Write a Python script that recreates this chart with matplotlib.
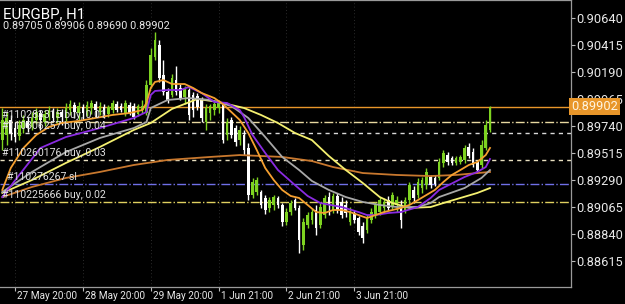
import numpy as np
import matplotlib
matplotlib.use('Agg')
import matplotlib.pyplot as plt
import matplotlib.transforms as mtransforms

plt.rcParams['font.family'] = ['Roboto', 'DejaVu Sans']

# EURGBP H1 candles (oldest -> newest)
opens = [0.89623, 0.89665, 0.89790, 0.89723, 0.89657, 0.89723, 0.89782, 0.89732, 0.89790, 0.89848,
         0.89773, 0.89823, 0.89865, 0.89807, 0.89857, 0.89807, 0.89873, 0.89915, 0.89848, 0.89898,
         0.89857, 0.89890, 0.89923, 0.89857, 0.89898, 0.89840, 0.89873, 0.89923, 0.89907, 0.89848,
         0.89915, 0.89907, 0.89840, 0.89873, 0.89848, 0.90082, 0.90315, 0.90415, 0.90165, 0.90023,
         0.89998, 0.90123, 0.90057, 0.89982, 0.90040, 0.89998, 0.89990, 0.89957, 0.89773, 0.89848,
         0.89873, 0.89890, 0.89915, 0.89665, 0.89790, 0.89723, 0.89623, 0.89665, 0.89557, 0.89165,
         0.89190, 0.89190, 0.89140, 0.89057, 0.89082, 0.89140, 0.89082, 0.88940, 0.89023, 0.89123,
         0.89057, 0.88748, 0.88915, 0.88957, 0.89040, 0.88915, 0.88998, 0.89148, 0.89040, 0.89157,
         0.89107, 0.89082, 0.88940, 0.89015, 0.88973, 0.88907, 0.88873, 0.88957, 0.88998, 0.89023,
         0.89057, 0.89123, 0.89073, 0.89082, 0.89082, 0.89040, 0.89123, 0.89207, 0.89165, 0.89223,
         0.89248, 0.89315, 0.89307, 0.89307, 0.89432, 0.89498, 0.89473, 0.89432, 0.89440, 0.89457,
         0.89565, 0.89523, 0.89440, 0.89415, 0.89557, 0.89705]
highs = [0.89890, 0.89857, 0.89832, 0.89773, 0.89790, 0.89832, 0.89815, 0.89857, 0.89890, 0.89873,
         0.89873, 0.89907, 0.89890, 0.89890, 0.89882, 0.89932, 0.89957, 0.89940, 0.89940, 0.89923,
         0.89948, 0.89957, 0.89948, 0.89940, 0.89923, 0.89915, 0.89957, 0.89948, 0.89932, 0.89957,
         0.89940, 0.89932, 0.89923, 0.89957, 0.90123, 0.90390, 0.90523, 0.90457, 0.90290, 0.90057,
         0.90173, 0.90240, 0.90090, 0.90073, 0.90057, 0.90023, 0.90015, 0.89982, 0.89923, 0.89923,
         0.89940, 0.89957, 0.89940, 0.89807, 0.89815, 0.89748, 0.89740, 0.89707, 0.89598, 0.89307,
         0.89315, 0.89207, 0.89165, 0.89148, 0.89165, 0.89157, 0.89098, 0.89057, 0.89123, 0.89140,
         0.89082, 0.88973, 0.89023, 0.89057, 0.89082, 0.89098, 0.89165, 0.89190, 0.89182, 0.89182,
         0.89148, 0.89123, 0.89065, 0.89040, 0.88990, 0.88940, 0.88998, 0.89057, 0.89107, 0.89148,
         0.89140, 0.89157, 0.89190, 0.89157, 0.89123, 0.89148, 0.89273, 0.89240, 0.89307, 0.89315,
         0.89390, 0.89332, 0.89332, 0.89473, 0.89540, 0.89523, 0.89490, 0.89490, 0.89498, 0.89582,
         0.89598, 0.89557, 0.89457, 0.89623, 0.89790, 0.89906]
lows = [0.89540, 0.89582, 0.89623, 0.89607, 0.89623, 0.89682, 0.89690, 0.89707, 0.89757, 0.89707,
        0.89740, 0.89790, 0.89773, 0.89765, 0.89748, 0.89782, 0.89832, 0.89807, 0.89790, 0.89790,
        0.89823, 0.89840, 0.89815, 0.89832, 0.89807, 0.89815, 0.89848, 0.89857, 0.89857, 0.89823,
        0.89832, 0.89798, 0.89823, 0.89848, 0.89832, 0.90057, 0.90290, 0.90107, 0.89998, 0.89932,
        0.89982, 0.89998, 0.89957, 0.89923, 0.89790, 0.89815, 0.89873, 0.89773, 0.89707, 0.89790,
        0.89832, 0.89848, 0.89598, 0.89623, 0.89640, 0.89573, 0.89582, 0.89498, 0.89123, 0.89140,
        0.89165, 0.89057, 0.89007, 0.89023, 0.89040, 0.89057, 0.88907, 0.88915, 0.88998, 0.89040,
        0.88682, 0.88707, 0.88890, 0.88923, 0.88832, 0.88890, 0.88973, 0.88998, 0.89015, 0.89015,
        0.88973, 0.88982, 0.88915, 0.88932, 0.88832, 0.88765, 0.88848, 0.88932, 0.88973, 0.88998,
        0.89015, 0.89040, 0.89048, 0.89023, 0.88890, 0.89015, 0.89090, 0.89098, 0.89140, 0.89182,
        0.89215, 0.89223, 0.89240, 0.89290, 0.89398, 0.89415, 0.89415, 0.89415, 0.89423, 0.89432,
        0.89473, 0.89398, 0.89348, 0.89390, 0.89540, 0.89690]
closes = [0.89790, 0.89807, 0.89682, 0.89648, 0.89748, 0.89790, 0.89723, 0.89807, 0.89857, 0.89790,
          0.89840, 0.89873, 0.89807, 0.89857, 0.89815, 0.89890, 0.89923, 0.89857, 0.89907, 0.89848,
          0.89915, 0.89932, 0.89873, 0.89907, 0.89840, 0.89898, 0.89932, 0.89873, 0.89873, 0.89932,
          0.89848, 0.89815, 0.89907, 0.89907, 0.90082, 0.90332, 0.90457, 0.90140, 0.90023, 0.89957,
          0.90140, 0.90023, 0.89973, 0.90057, 0.89832, 0.89873, 0.89898, 0.89807, 0.89890, 0.89907,
          0.89923, 0.89940, 0.89623, 0.89773, 0.89665, 0.89607, 0.89707, 0.89540, 0.89165, 0.89273,
          0.89290, 0.89082, 0.89040, 0.89123, 0.89148, 0.89082, 0.88940, 0.89023, 0.89098, 0.89057,
          0.88790, 0.88940, 0.88998, 0.89023, 0.88890, 0.89065, 0.89140, 0.89082, 0.89157, 0.89040,
          0.88998, 0.89015, 0.89023, 0.88957, 0.88857, 0.88807, 0.88973, 0.89023, 0.89082, 0.89123,
          0.89107, 0.89057, 0.89165, 0.89123, 0.88957, 0.89123, 0.89248, 0.89140, 0.89273, 0.89290,
          0.89357, 0.89248, 0.89257, 0.89440, 0.89515, 0.89440, 0.89432, 0.89473, 0.89482, 0.89557,
          0.89490, 0.89415, 0.89373, 0.89582, 0.89748, 0.89902]

# moving averages, read at selected bars
ma_fast_idx = [0, 2, 5, 8, 11, 14, 18, 22, 26, 30, 33, 34, 35, 36, 38, 40, 43, 45, 47, 50, 52, 54, 56,
               58, 60, 62, 64, 66, 68, 70, 72, 74, 76, 78, 80, 82, 84, 86, 88, 90, 92, 94, 96, 98,
               100, 102, 104, 106, 108, 110, 112, 114, 115]
ma_fast = [0.89207, 0.89390, 0.89557, 0.89665, 0.89732, 0.89765, 0.89782, 0.89807, 0.89832, 0.89848,
           0.89873, 0.89932, 0.90057, 0.90107, 0.90123, 0.90090, 0.90090, 0.90057, 0.90015, 0.89973,
           0.89923, 0.89857, 0.89790, 0.89682, 0.89540, 0.89390, 0.89290, 0.89207, 0.89157, 0.89140,
           0.89082, 0.89023, 0.89015, 0.89040, 0.89040, 0.89023, 0.88998, 0.88973, 0.88998, 0.89023,
           0.89040, 0.89057, 0.89082, 0.89123, 0.89165, 0.89207, 0.89273, 0.89332, 0.89373, 0.89415,
           0.89440, 0.89498, 0.89557]
ma_purple_idx = [0, 4, 9, 15, 23, 31, 34, 35, 36, 39, 42, 44, 47, 50, 53, 56, 57, 59, 62, 65, 69, 72,
                 75, 80, 84, 86, 88, 91, 94, 98, 101, 103, 109, 112, 114, 115]
ma_purple = [0.89148, 0.89332, 0.89557, 0.89648, 0.89723, 0.89807, 0.89857, 0.89998, 0.90032, 0.90040,
             0.90040, 0.90065, 0.90015, 0.89940, 0.89932, 0.89873, 0.89815, 0.89665, 0.89515, 0.89373,
             0.89248, 0.89157, 0.89098, 0.89065, 0.89023, 0.88998, 0.88998, 0.89015, 0.89023, 0.89065,
             0.89140, 0.89207, 0.89315, 0.89357, 0.89398, 0.89465]
ma_gray_idx = [0, 7, 15, 23, 31, 34, 35, 39, 44, 49, 54, 58, 62, 66, 70, 73, 77, 81, 85, 89, 93, 98,
               101, 103, 109, 113, 115]
ma_gray = [0.89190, 0.89357, 0.89523, 0.89640, 0.89723, 0.89773, 0.89890, 0.89957, 0.89973, 0.89957,
           0.89907, 0.89807, 0.89648, 0.89482, 0.89373, 0.89282, 0.89207, 0.89148, 0.89107, 0.89082,
           0.89065, 0.89065, 0.89098, 0.89148, 0.89223, 0.89307, 0.89373]
ma_yellow_idx = [0, 7, 15, 23, 31, 35, 40, 46, 51, 57, 61, 65, 69, 73, 77, 81, 85, 89, 92, 96, 101,
                 104, 108, 112, 115]
ma_yellow = [0.89182, 0.89290, 0.89432, 0.89565, 0.89707, 0.89765, 0.89882, 0.89965, 0.89940, 0.89890,
             0.89832, 0.89765, 0.89682, 0.89623, 0.89490, 0.89373, 0.89265, 0.89148, 0.89098, 0.89057,
             0.89065, 0.89098, 0.89140, 0.89182, 0.89223]
ma_slow_idx = [0, 7, 15, 23, 31, 39, 49, 56, 66, 73, 78, 85, 93, 101, 107, 115]
ma_slow = [0.89148, 0.89232, 0.89307, 0.89357, 0.89415, 0.89457, 0.89482, 0.89498, 0.89482, 0.89448,
           0.89398, 0.89348, 0.89332, 0.89323, 0.89332, 0.89357]

# order lines
order_prices = [0.89775, 0.89682, 0.89457, 0.89257, 0.89103]
order_labels = ['#110283315 buy, 0.01', '#110306257 buy, 0.04', '#110260176 buy, 0.03',
                '#110276267 sl', '#110225666 buy, 0.02']
order_colors = ['#e8d8a0', '#d8d8d8', '#e8e0c0', '#7070e8', '#e0d060']
order_styles = ['-.', (0, (3, 3)), (0, (3, 3)), '-.', '-.']

price_ticks = [0.90640, 0.90415, 0.90190, 0.89965, 0.89740, 0.89515, 0.89290, 0.89065, 0.88840, 0.88615]
date_idx = [3, 19, 35, 51, 67, 83]
date_labels = ['27 May 20:00', '28 May 20:00', '29 May 20:00', '1 Jun 21:00', '2 Jun 21:00', '3 Jun 21:00']
symbol = 'EURGBP, H1'
last_price = 0.89902

W, H = 625, 304
fig = plt.figure(figsize=(W / 100, H / 100), dpi=100, facecolor='black')
ax = fig.add_axes([0, 17 / H, 571 / W, 287 / H], facecolor='black')

n = len(opens)
x = np.arange(n)
o = np.array(opens)
c = np.array(closes)
hi = np.array(highs)
lo = np.array(lows)
up = c >= o
green = '#7ed321'
cols = np.where(up, green, '#ffffff')

ax.vlines(x, lo, hi, colors=cols, linewidth=1.0, zorder=3)
body = np.maximum(np.abs(c - o), 0.00003)
ax.bar(x, body, bottom=np.minimum(o, c), width=0.62, color=cols, linewidth=0, zorder=4)

lw = 1.3
ax.plot(ma_slow_idx, ma_slow, color='#c8782e', lw=lw, zorder=5)
ax.plot(ma_yellow_idx, ma_yellow, color='#f4f070', lw=lw, zorder=5)
ax.plot(ma_gray_idx, ma_gray, color='#a8a8a8', lw=lw, zorder=5)
ax.plot(ma_purple_idx, ma_purple, color='#8a2be2', lw=lw, zorder=6)
ax.plot(ma_fast_idx, ma_fast, color='#f5a030', lw=lw, zorder=6)

# current price line
ax.axhline(last_price, color='#e8962a', lw=1.0, zorder=2)

for p, lab, col, ls in zip(order_prices, order_labels, order_colors, order_styles):
    ax.axhline(p, color=col, lw=1.0, ls=ls, zorder=2)
    xoff = 7 if lab.endswith('sl') else 2
    tr = mtransforms.offset_copy(ax.get_yaxis_transform(), fig=fig, x=xoff, y=2, units='dots')
    ax.text(0, p, lab, transform=tr, color='#e0e0e0', fontsize=7.6, ha='left', va='bottom', zorder=7)

ax.set_xlim(-0.54, 134.1)
ax.set_ylim(0.90640 - 269 / 12000, 0.90640 + 18 / 12000)

# grid
for d in date_idx:
    ax.axvline(d, color='#3a3a3a', lw=0.6, ls=(0, (1, 3)), zorder=1)

ax.yaxis.tick_right()
ax.set_yticks(price_ticks)
ax.set_yticklabels([f'{p:.5f}' for p in price_ticks])
ax.tick_params(axis='y', colors='#bbbbbb', labelcolor='#e8e8e8', length=3, width=0.8,
               pad=1, labelsize=9.2)
ax.set_xticks(date_idx)
ax.set_xticklabels([])
ax.tick_params(axis='x', colors='#bbbbbb', length=3, width=0.8)
dtr = mtransforms.offset_copy(ax.get_xaxis_transform(), fig=fig, x=2, y=-9, units='dots')
for d, lab in zip(date_idx, date_labels):
    ax.text(d, 0, lab, transform=dtr, color='#e8e8e8', fontsize=7.2, ha='left', va='center')

for side in ['right', 'bottom', 'top']:
    ax.spines[side].set_color('#9a9a9a')
    ax.spines[side].set_linewidth(0.9)
ax.spines['left'].set_visible(False)

# price box on the axis
ax.text(1.0, last_price, '0.89902', transform=ax.get_yaxis_transform(), color='#fff4e0',
        fontsize=9.2, ha='left', va='center', zorder=10, clip_on=False,
        bbox=dict(boxstyle='square,pad=0.15', fc='#e8962a', ec='none'))

fig.text(3 / W, 1 - 14 / H, symbol, color='white', fontsize=10.8, ha='left', va='center')
fig.text(3 / W, 1 - 26 / H, '0.89705 0.89906 0.89690 0.89902', color='#e8e8e8',
         fontsize=7.8, ha='left', va='center')

fig.savefig('out.png', dpi=100, facecolor='black')
